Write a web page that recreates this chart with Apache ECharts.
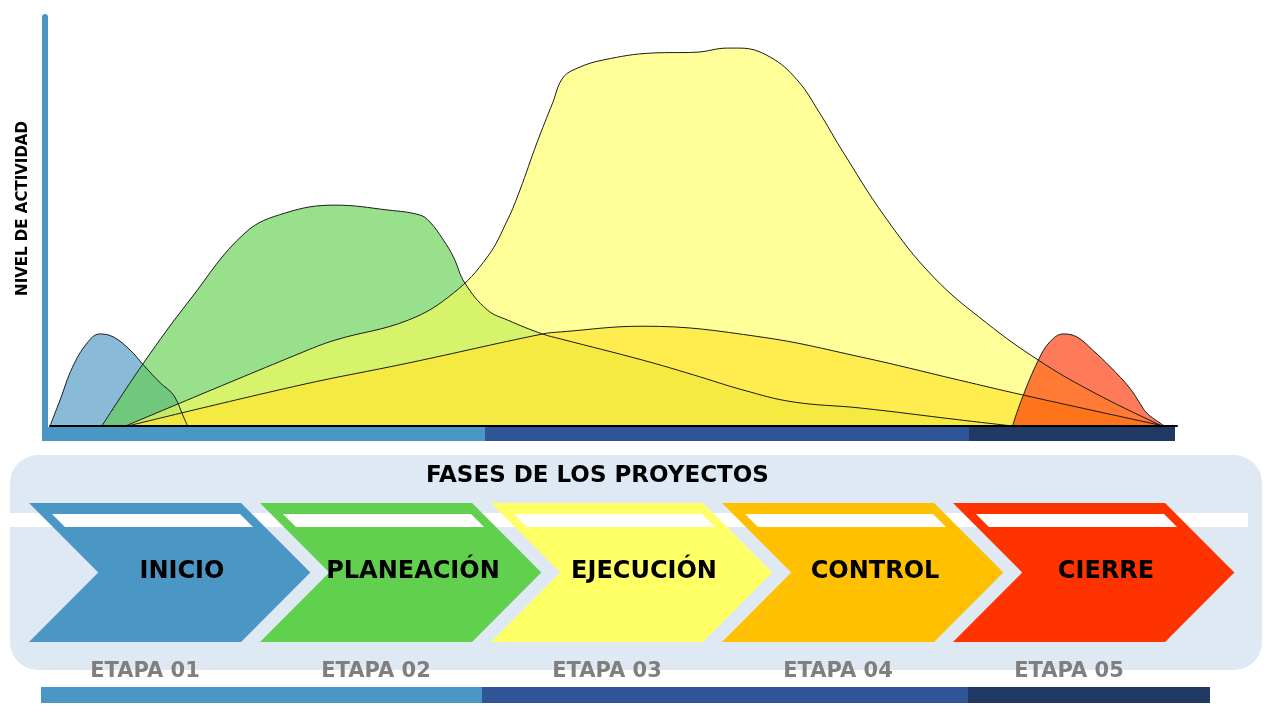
<!DOCTYPE html>
<html><head><meta charset="utf-8">
<script src="https://cdn.jsdelivr.net/npm/echarts@6/dist/echarts.min.js"></script>
<style>html,body{margin:0;padding:0;background:#fff}#c{width:1280px;height:720px}</style>
</head><body><div id="c"></div>
<script>
// ---- data ----
const phases = ['INICIO', 'PLANEACIÓN', 'EJECUCIÓN', 'CONTROL', 'CIERRE'];
const stages = ['ETAPA 01', 'ETAPA 02', 'ETAPA 03', 'ETAPA 04', 'ETAPA 05'];
const yAxisTitle = 'NIVEL DE ACTIVIDAD';
const sectionTitle = 'FASES DE LOS PROYECTOS';

// [tiempo %, nivel de actividad]
const inicio = [[0,0],[0.9,6.4],[2.0,14.4],[3.3,20.3],[4.4,22.5],[5.6,21.8],[7.1,18.6],[8.3,14.9],[9.8,10.5],[10.8,8.1],[11.3,5.9],[11.7,3.2],[12.2,0]];
const planeacion = [[4.6,0],[8.3,15.4],[12.4,30.8],[17.3,47.2],[20.9,52.1],[25.3,54.0],[30.0,52.8],[32.8,51.6],[33.7,49.9],[34.9,45.5],[35.8,41.3],[36.8,35.0],[38.8,28.4],[40.6,25.9],[43.7,22.5],[45.3,21.3],[52.6,16.1],[57.1,12.5],[61.5,8.8],[65.9,5.9],[71.9,4.4],[80.7,1.5],[85.4,0]];
const ejecucion = [[6.7,0],[22.2,17.8],[25.3,21.0],[31.8,25.9],[35.8,32.5],[38.8,41.3],[40.6,50.4],[41.7,57.7],[43.2,69.2],[44.6,79.0],[45.5,85.1],[46.8,87.5],[49.1,89.5],[53.5,91.2],[57.4,91.4],[60.1,92.4],[61.2,92.4],[63.9,90.2],[66.3,84.6],[68.3,76.5],[70.1,68.2],[74.1,51.1],[78.4,36.4],[83.1,25.2],[87.7,16.1],[92.2,8.8],[98.5,0.2],[98.9,0]];
const control = [[6.9,0],[22.2,10.0],[31.8,15.4],[43.7,22.5],[45.3,23.0],[52.6,24.4],[63.0,21.8],[71.9,16.9],[80.7,11.2],[86.3,7.6],[98.5,0.2],[98.9,0]];
const cierre = [[85.4,0],[86.3,7.1],[87.7,16.1],[88.7,20.5],[89.9,22.5],[91.1,21.8],[92.5,18.6],[94.1,14.4],[95.8,9.3],[96.7,5.6],[97.3,3.2],[98.5,0.7],[98.9,0]];

// ---- styles ----
const phaseColors = ['#4a96c4', '#62d04f', '#ffff66', '#ffc000', '#ff3300'];
const FONT = 'DejaVu Sans';

function area(name, data, fill) {
  return {
    name: name, type: 'line', xAxisIndex: 0, yAxisIndex: 0,
    data: data, smooth: 0.4, showSymbol: false, symbol: 'none',
    lineStyle: { color: '#1a1a1a', width: 1 },
    areaStyle: { color: fill, opacity: 1 },
    silent: true
  };
}

const chart = echarts.init(document.getElementById('c'));
chart.setOption({
  animation: false,
  backgroundColor: '#ffffff',
  title: {
    text: sectionTitle, left: 421, top: 460,
    textStyle: { fontFamily: FONT, fontWeight: 'bold', fontSize: 23, color: '#000' }
  },
  grid: [
    { left: 50, top: 17, width: 1127, height: 409 },
    { left: 29, top: 503, width: 1155, height: 139 }
  ],
  xAxis: [
    { type: 'value', gridIndex: 0, min: 0, max: 100, z: 5,
      axisLine: { show: true, onZero: false, lineStyle: { color: '#000', width: 2 } },
      axisTick: { show: false }, axisLabel: { show: false }, splitLine: { show: false } },
    { type: 'value', gridIndex: 1, min: 0, max: 5, show: false }
  ],
  yAxis: [
    { type: 'value', gridIndex: 0, min: 0, max: 100, offset: 5,
      name: yAxisTitle, nameLocation: 'middle', nameRotate: 90, nameGap: 14,
      nameTextStyle: { fontFamily: FONT, fontWeight: 'bold', fontSize: 15, color: '#000', padding: [0, 0, 0, 26] },
      axisLine: { show: true, onZero: false, lineStyle: { color: '#4a96c4', width: 6 } },
      axisTick: { show: false }, axisLabel: { show: false }, splitLine: { show: false } },
    { type: 'value', gridIndex: 1, min: 0, max: 1, show: false }
  ],
  graphic: [
    { type: 'rect', z: 0, shape: { x: 10, y: 455, width: 1252, height: 215, r: 28 }, style: { fill: '#dee9f4' } },
    { type: 'rect', z: 0, shape: { x: 10, y: 513, width: 1238, height: 14 }, style: { fill: '#ffffff' } },
    { type: 'rect', z: 0, shape: { x: 42, y: 427, width: 443, height: 14 }, style: { fill: '#4a96c4' } },
    { type: 'rect', z: 0, shape: { x: 485, y: 427, width: 484, height: 14 }, style: { fill: '#2f5597' } },
    { type: 'rect', z: 0, shape: { x: 969, y: 427, width: 206, height: 14 }, style: { fill: '#203864' } },
    { type: 'rect', z: 0, shape: { x: 41, y: 687, width: 441, height: 16 }, style: { fill: '#4a96c4' } },
    { type: 'rect', z: 0, shape: { x: 482, y: 687, width: 486, height: 16 }, style: { fill: '#2f5597' } },
    { type: 'rect', z: 0, shape: { x: 968, y: 687, width: 242, height: 16 }, style: { fill: '#203864' } }
  ],
  series: [
    area(phases[0], inicio, 'rgba(74,150,196,0.65)'),
    area(phases[1], planeacion, 'rgba(98,208,79,0.65)'),
    area(phases[3], control, 'rgba(255,192,0,0.72)'),
    area(phases[2], ejecucion, 'rgba(255,255,85,0.6)'),
    area(phases[4], cierre, 'rgba(255,51,0,0.65)'),
    {
      type: 'custom', xAxisIndex: 1, yAxisIndex: 1, clip: false, silent: true,
      data: phases.map(function (p, i) { return [i]; }),
      renderItem: function (params, api) {
        const i = api.value(0);
        const tl = api.coord([i, 1]);
        const bl = api.coord([i, 0]);
        const u = api.size([1, 0])[0];
        const L = tl[0], T = tl[1], B = bl[1], M = (T + B) / 2;
        const body = u * 0.918, tip = u * 0.3;
        const k = tip / (M - T);
        const d1 = 11, d2 = 24, inset = 12;
        const idx = params.dataIndex;
        return {
          type: 'group',
          children: [
            { type: 'polygon',
              shape: { points: [[L, T], [L + body, T], [L + body + tip, M], [L + body, B], [L, B], [L + tip, M]] },
              style: { fill: phaseColors[idx] } },
            { type: 'polygon',
              shape: { points: [[L + d1 * k + inset, T + d1], [L + body + d1 * k - inset, T + d1],
                                [L + body + d2 * k - inset, T + d2], [L + d2 * k + inset, T + d2]] },
              style: { fill: '#ffffff' } },
            { type: 'text', x: L + 153, y: M - 1,
              style: { text: phases[idx], align: 'center', verticalAlign: 'middle', fill: '#000',
                       fontFamily: FONT, fontWeight: 'bold', fontSize: 24 } },
            { type: 'text', x: L + 116, y: B + 30,
              style: { text: stages[idx], align: 'center', verticalAlign: 'middle', fill: '#7f7f7f',
                       fontFamily: FONT, fontWeight: 'bold', fontSize: 21 } }
          ]
        };
      }
    }
  ]
});
</script>
</body></html>
